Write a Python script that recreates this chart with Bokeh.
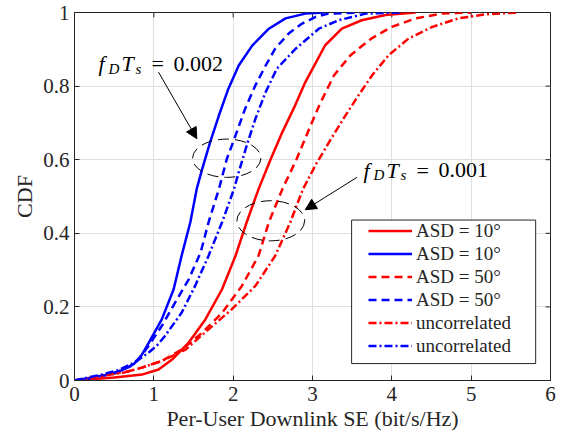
import math
from bokeh.plotting import figure
from bokeh.models import (Legend, LegendItem, Label, Arrow, NormalHead, FixedTicker,
                          ColumnDataSource, BoxAnnotation)
from bokeh.embed import file_html
from bokeh.resources import INLINE

# ---- data (SE in bit/s/Hz, CDF) ----
red_asd10_se = [0, 0.50, 0.68, 0.85, 1.06, 1.23, 1.44, 1.65, 1.86, 2.03, 2.17, 2.32, 2.47, 2.62, 2.78, 2.91, 3.00, 3.16, 3.37, 3.62, 3.92, 4.30]
red_asd10_cdf = [0, 0.008, 0.012, 0.016, 0.030, 0.057, 0.103, 0.166, 0.248, 0.339, 0.430, 0.520, 0.600, 0.675, 0.747, 0.811, 0.847, 0.911, 0.956, 0.979, 0.993, 1.0]

blue_asd10_se = [0, 0.42, 0.60, 0.75, 0.85, 0.93, 1.10, 1.25, 1.35, 1.46, 1.54, 1.61, 1.71, 1.82, 1.94, 2.07, 2.24, 2.45, 2.66, 2.91, 3.15]
blue_asd10_cdf = [0, 0.016, 0.028, 0.045, 0.070, 0.100, 0.166, 0.248, 0.339, 0.430, 0.520, 0.575, 0.648, 0.720, 0.793, 0.856, 0.910, 0.956, 0.984, 0.997, 1.0]

red_asd50_se = [0, 0.09, 0.55, 0.68, 0.85, 1.10, 1.35, 1.61, 1.86, 2.11, 2.32, 2.45, 2.62, 2.80, 2.99, 3.09, 3.27, 3.48, 3.74, 4.00, 4.30, 4.63, 5.00]
red_asd50_cdf = [0, 0.003, 0.021, 0.025, 0.035, 0.053, 0.084, 0.130, 0.184, 0.257, 0.339, 0.430, 0.520, 0.602, 0.700, 0.750, 0.829, 0.884, 0.929, 0.961, 0.984, 0.997, 1.0]

blue_asd50_se = [0, 0.26, 0.50, 0.70, 0.80, 0.93, 1.10, 1.27, 1.44, 1.59, 1.69, 1.82, 1.92, 2.03, 2.15, 2.28, 2.41, 2.53, 2.70, 2.87, 3.04, 3.20, 3.60]
blue_asd50_cdf = [0, 0.008, 0.020, 0.038, 0.055, 0.093, 0.148, 0.212, 0.275, 0.348, 0.430, 0.520, 0.602, 0.666, 0.738, 0.802, 0.856, 0.902, 0.943, 0.970, 0.988, 0.997, 1.0]

red_unc_se = [0, 0.63, 0.85, 1.10, 1.40, 1.69, 1.98, 2.28, 2.53, 2.72, 2.88, 3.05, 3.23, 3.40, 3.58, 3.75, 3.96, 4.21, 4.51, 4.84, 5.18, 5.60]
red_unc_cdf = [0, 0.022, 0.035, 0.053, 0.084, 0.139, 0.193, 0.257, 0.339, 0.430, 0.520, 0.590, 0.655, 0.715, 0.775, 0.829, 0.884, 0.929, 0.961, 0.984, 0.995, 1.0]

blue_unc_se = [0, 0.34, 0.55, 0.72, 0.83, 0.93, 1.04, 1.14, 1.35, 1.52, 1.69, 1.86, 2.01, 2.07, 2.17, 2.28, 2.41, 2.55, 2.78, 3.08, 3.33, 3.67, 4.10]
blue_unc_cdf = [0, 0.016, 0.028, 0.045, 0.060, 0.075, 0.095, 0.121, 0.184, 0.257, 0.339, 0.430, 0.520, 0.566, 0.638, 0.711, 0.784, 0.847, 0.900, 0.956, 0.979, 0.997, 1.0]

legend_labels = ["ASD = 10°", "ASD = 10°", "ASD = 50°", "ASD = 50°", "uncorrelated", "uncorrelated"]
x_ticks = [0, 1, 2, 3, 4, 5, 6]
y_ticks = [0, 0.2, 0.4, 0.6, 0.8, 1]
annot_values = ["0.002", "0.001"]

FONT = "Liberation Serif"
AX = "#262626"
RED = "#ff0000"
BLUE = "#0000ff"

p = figure(width=556, height=434, output_backend="svg", toolbar_location=None,
           x_range=(0, 6), y_range=(0, 1),
           min_border_left=74, min_border_right=6, min_border_top=12, min_border_bottom=54)
p.outline_line_color = AX
p.outline_line_width = 1

p.xaxis.axis_label = "Per-User Downlink SE (bit/s/Hz)"
p.yaxis.axis_label = "CDF"
for ax in (p.xaxis[0], p.yaxis[0]):
    ax.axis_label_text_font = FONT
    ax.axis_label_text_font_style = "normal"
    ax.axis_label_text_font_size = "22px"
    ax.axis_label_text_color = AX
    ax.major_label_text_font = FONT
    ax.major_label_text_font_size = "21px"
    ax.major_label_text_color = AX
    ax.axis_line_color = AX
    ax.major_tick_line_color = AX
    ax.major_tick_in = 5
    ax.major_tick_out = 0
    ax.minor_tick_line_color = None
p.xaxis.major_label_standoff = 6
p.yaxis.major_label_standoff = 5
p.xaxis.axis_label_standoff = 2
p.yaxis.axis_label_standoff = 3
p.xaxis.ticker = FixedTicker(ticks=x_ticks)
p.yaxis.ticker = FixedTicker(ticks=y_ticks)
p.yaxis.major_label_overrides = {0: "0", 1: "1"}

p.xgrid.ticker = FixedTicker(ticks=x_ticks)
p.ygrid.ticker = FixedTicker(ticks=y_ticks)
p.grid.grid_line_color = "#dfdfdf"
p.grid.grid_line_width = 1

# box ticks on the top and right edges (inward)
p.scatter(x=x_ticks, y=[y_ticks[-1]] * len(x_ticks), marker="dash", angle=math.pi / 2,
          size=10, line_color=AX, line_width=1)
p.scatter(x=[x_ticks[-1]] * len(y_ticks), y=y_ticks, marker="dash",
          size=10, line_color=AX, line_width=1)

LW = 2.5
series = [
    (red_asd10_se, red_asd10_cdf, RED, "solid"),
    (blue_asd10_se, blue_asd10_cdf, BLUE, "solid"),
    (red_asd50_se, red_asd50_cdf, RED, "8 5"),
    (blue_asd50_se, blue_asd50_cdf, BLUE, "8 5"),
    (red_unc_se, red_unc_cdf, RED, "8 3 2 3"),
    (blue_unc_se, blue_unc_cdf, BLUE, "8 3 2 3"),
]
items = []
for (xs, ys, col, dash), lab in zip(series, legend_labels):
    src = ColumnDataSource(dict(x=xs, y=ys))
    r = p.line("x", "y", source=src, line_color=col, line_width=LW, line_dash=dash,
               line_join="round")
    items.append(LegendItem(label=lab, renderers=[r]))

# dashed ellipses
ell = ColumnDataSource(dict(x=[1.919, 2.474], y=[0.604, 0.434], w=[0.861, 0.854], h=[0.104, 0.109]))
p.ellipse("x", "y", width="w", height="h", source=ell, fill_color=None,
          line_color="black", line_width=1, line_dash="11 6")

# arrows
for xs_, ys_, xe_, ye_ in [(1.059, 0.838, 1.542, 0.657), (3.56, 0.552, 2.909, 0.464)]:
    p.add_layout(Arrow(x_start=xs_, y_start=ys_, x_end=xe_, y_end=ye_,
                       line_color="black", line_width=1,
                       end=NormalHead(size=11, fill_color="black", line_color="black")))

# annotation texts:  f_D T_s = value
def annot(x, y, val):
    pieces = [("f", 0, 0, "22px", "italic"), ("D", 10, -5, "15px", "italic"),
              ("T", 23, 0, "22px", "italic"), ("s", 37, -5, "15px", "italic"),
              ("=", 53, 0, "22px", "normal"), (val, 75, 0, "22px", "normal")]
    for t, dx, dy, fs, st in pieces:
        p.add_layout(Label(x=x, y=y, x_offset=dx, y_offset=dy, text=t, text_font=FONT,
                           text_font_size=fs, text_font_style=st, text_color="black",
                           text_baseline="alphabetic", text_align="left"))

annot(0.303, 0.861, annot_values[0])
annot(3.644, 0.572, annot_values[1])

# legend frame (white box with border) and the legend entries inside it
p.add_layout(BoxAnnotation(left=3.493, right=5.813, bottom=0.046, top=0.436,
                           fill_color="white", fill_alpha=1.0,
                           line_color=AX, line_width=1, line_alpha=1.0))

legend = Legend(items=items, location=(294, 23))
legend.label_text_font = FONT
legend.label_text_font_size = "19px"
legend.label_text_color = AX
legend.border_line_color = None
legend.background_fill_alpha = 0
legend.glyph_width = 44
legend.glyph_height = 23
legend.label_height = 23
legend.label_standoff = 4
legend.spacing = 0
legend.padding = 0
legend.margin = 0
p.add_layout(legend, "center")

open("out.html", "w").write(file_html(p, INLINE))
